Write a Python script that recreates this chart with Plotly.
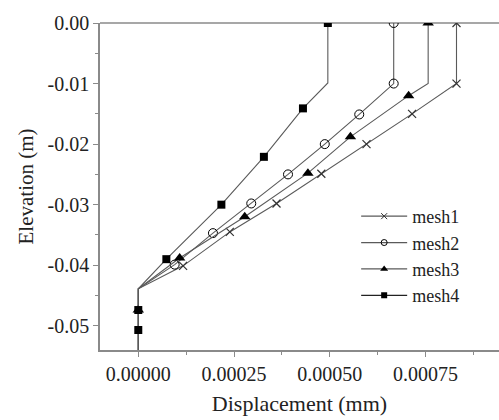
import plotly.graph_objects as go

# ---- data (displacement in mm, elevation in m) ----
mesh1_x = [0.000831, 0.000831, 0.000715, 0.000596, 0.000478, 0.000361, 0.000239, 0.000117, 0.0, 0.0]
mesh1_y = [0.0, -0.0100, -0.0150, -0.0200, -0.0249, -0.0298, -0.0345, -0.0401, -0.0439, -0.0560]
mesh1_mx = [0.000831, 0.000831, 0.000715, 0.000596, 0.000478, 0.000361, 0.000239, 0.000117]
mesh1_my = [0.0, -0.0100, -0.0150, -0.0200, -0.0249, -0.0298, -0.0345, -0.0401]

mesh2_x = [0.000667, 0.000667, 0.000577, 0.000487, 0.000391, 0.000295, 0.000195, 0.000095, 0.0, 0.0]
mesh2_y = [0.0, -0.0100, -0.0151, -0.0200, -0.0250, -0.0298, -0.0347, -0.0399, -0.0439, -0.0560]
mesh2_mx = [0.000667, 0.000667, 0.000577, 0.000487, 0.000391, 0.000295, 0.000195, 0.000095]
mesh2_my = [0.0, -0.0100, -0.0151, -0.0200, -0.0250, -0.0298, -0.0347, -0.0399]

mesh3_x = [0.000757, 0.000757, 0.000706, 0.000554, 0.000443, 0.000278, 0.000108, 0.0, 0.0, 0.0]
mesh3_y = [0.0, -0.0100, -0.0120, -0.0188, -0.0248, -0.0320, -0.0388, -0.0439, -0.0474, -0.0560]
mesh3_mx = [0.000757, 0.000706, 0.000554, 0.000443, 0.000278, 0.000108, 0.0]
mesh3_my = [0.0, -0.0120, -0.0188, -0.0248, -0.0320, -0.0388, -0.0474]

mesh4_x = [0.000495, 0.000495, 0.000430, 0.000328, 0.000217, 0.0000733, 0.0, 0.0, 0.0, 0.0]
mesh4_y = [0.0, -0.0099, -0.0141, -0.0221, -0.0300, -0.0390, -0.0439, -0.0474, -0.0507, -0.0560]
mesh4_mx = [0.000495, 0.000430, 0.000328, 0.000217, 0.0000733, 0.0, 0.0]
mesh4_my = [0.0, -0.0141, -0.0221, -0.0300, -0.0390, -0.0474, -0.0507]

series_names = ["mesh1", "mesh2", "mesh3", "mesh4"]

x_tickvals = [0.0, 0.00025, 0.0005, 0.00075]
x_ticktext = ["0.00000", "0.00025", "0.00050", "0.00075"]
y_tickvals = [0.0, -0.01, -0.02, -0.03, -0.04, -0.05]
y_ticktext = ["0.00", "-0.01", "-0.02", "-0.03", "-0.04", "-0.05"]

# ---- styles ----
FONT = "Liberation Serif"
LINE_COLOR = "#5a5a5a"
markers = [
    dict(symbol="x-thin", size=8, color="black", line=dict(color="#333", width=1.2)),
    dict(symbol="circle-open", size=9, color="black", line=dict(color="black", width=1)),
    dict(symbol="triangle-up", size=10, color="black"),
    dict(symbol="square", size=8, color="black"),
]
legend_markers = [
    dict(symbol="x-thin", size=6, color="black", line=dict(color="#333", width=1)),
    dict(symbol="circle-open", size=6, color="black", line=dict(color="black", width=1)),
    dict(symbol="triangle-up", size=7, color="black"),
    dict(symbol="square", size=6, color="black"),
]

lines = [(mesh1_x, mesh1_y), (mesh2_x, mesh2_y), (mesh3_x, mesh3_y), (mesh4_x, mesh4_y)]
marks = [(mesh1_mx, mesh1_my), (mesh2_mx, mesh2_my), (mesh3_mx, mesh3_my), (mesh4_mx, mesh4_my)]

fig = go.Figure()
for i, name in enumerate(series_names):
    lx, ly = lines[i]
    mx, my = marks[i]
    fig.add_trace(go.Scatter(x=lx, y=ly, mode="lines", line=dict(color=LINE_COLOR, width=1.1),
                             showlegend=False, hoverinfo="skip"))
    fig.add_trace(go.Scatter(x=mx, y=my, mode="markers", marker=markers[i],
                             showlegend=False, name=name))
    fig.add_trace(go.Scatter(x=[None], y=[None], mode="lines+markers", name=name,
                             line=dict(color=LINE_COLOR if i < 3 else "#222", width=1.3),
                             marker=legend_markers[i]))

axis_common = dict(
    showline=True, linecolor="#8a8a8a", linewidth=1.5,
    ticks="outside", ticklen=5, tickwidth=1, tickcolor="#8a8a8a",
    showgrid=False, zeroline=False,
    tickfont=dict(family=FONT, size=20, color="#222"),
)

fig.update_layout(
    width=499, height=420,
    margin=dict(l=100, r=0, t=23, b=70),
    paper_bgcolor="white", plot_bgcolor="white",
    font=dict(family=FONT, color="#222"),
    xaxis=dict(**axis_common, range=[-0.0001, 0.000942],
               tickmode="array", tickvals=x_tickvals, ticktext=x_ticktext,
               minor=dict(dtick=0.000125, tick0=0, ticks="outside", ticklen=3, tickcolor="#8a8a8a"),
               title=dict(text="Displacement (mm)", font=dict(family=FONT, size=22, color="#222"), standoff=12)),
    yaxis=dict(**axis_common, range=[-0.054, 0.0],
               tickmode="array", tickvals=y_tickvals, ticktext=y_ticktext,
               minor=dict(dtick=0.005, tick0=0, ticks="outside", ticklen=3, tickcolor="#8a8a8a"),
               title=dict(text="Elevation (m)", font=dict(family=FONT, size=21, color="#222"), standoff=8)),
    legend=dict(x=0.642, y=0.465, xanchor="left", yanchor="top",
                bgcolor="rgba(0,0,0,0)", font=dict(family=FONT, size=18, color="#222"),
                itemwidth=46, tracegroupgap=0),
    shapes=[dict(type="line", xref="paper", yref="paper", x0=0, x1=1, y0=1, y1=1,
                 line=dict(color="#8a8a8a", width=1.5), layer="below")],
)

fig.write_html("out.html")
